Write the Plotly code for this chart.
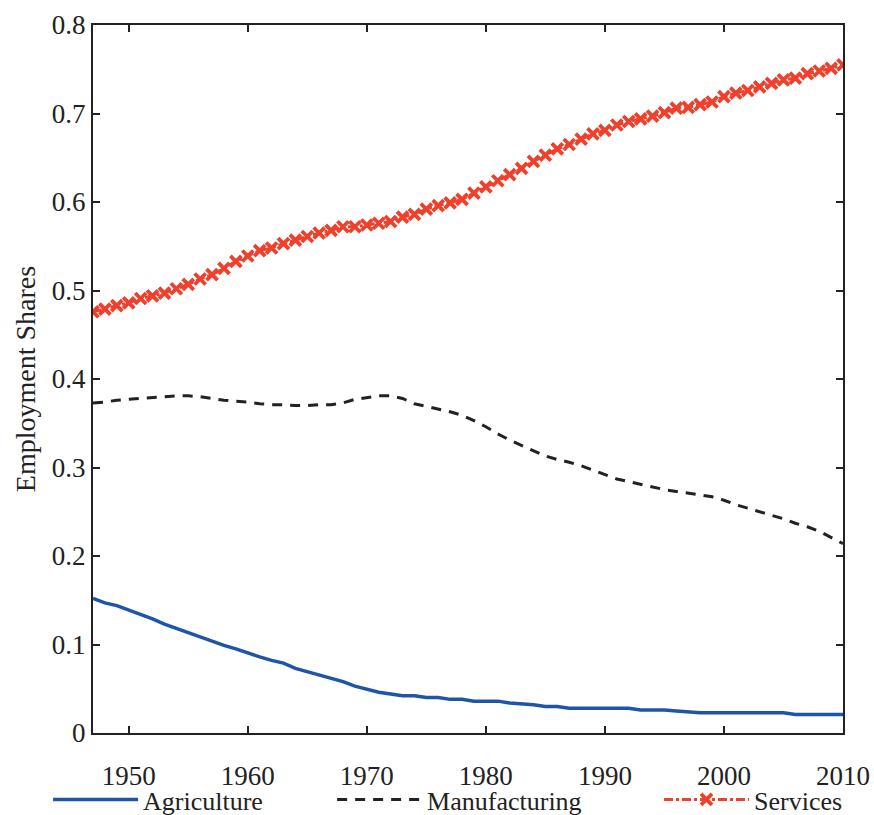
import plotly.graph_objects as go

# Employment shares by sector, 1947-2010
years = list(range(1947, 2011))

agriculture = [
    0.152, 0.147, 0.144, 0.139, 0.135, 0.129, 0.123, 0.118, 0.113, 0.109,
    0.103, 0.099, 0.095, 0.090, 0.086, 0.082, 0.079, 0.073, 0.069, 0.066,
    0.062, 0.058, 0.053, 0.049, 0.046, 0.044, 0.042, 0.042, 0.040, 0.040,
    0.038, 0.038, 0.036, 0.036, 0.036, 0.034, 0.033, 0.032, 0.030, 0.030,
    0.028, 0.028, 0.028, 0.028, 0.028, 0.028, 0.026, 0.026, 0.026, 0.025,
    0.024, 0.023, 0.023, 0.023, 0.023, 0.023, 0.023, 0.023, 0.023, 0.021,
    0.021, 0.021, 0.021, 0.021,
]

manufacturing = [
    0.373, 0.374, 0.376, 0.377, 0.378, 0.379, 0.380, 0.381, 0.381, 0.380,
    0.378, 0.376, 0.375, 0.374, 0.372, 0.371, 0.371, 0.370, 0.370, 0.371,
    0.371, 0.373, 0.377, 0.379, 0.381, 0.381, 0.378, 0.372, 0.369, 0.366,
    0.363, 0.359, 0.353, 0.346, 0.338, 0.331, 0.325, 0.319, 0.313, 0.309,
    0.306, 0.302, 0.297, 0.292, 0.287, 0.284, 0.281, 0.278, 0.275, 0.273,
    0.271, 0.269, 0.267, 0.263, 0.258, 0.254, 0.250, 0.246, 0.242, 0.237,
    0.233, 0.228, 0.221, 0.214,
]

services = [
    0.476, 0.479, 0.483, 0.486, 0.491, 0.494, 0.497, 0.502, 0.507, 0.513,
    0.518, 0.525, 0.533, 0.539, 0.545, 0.548, 0.553, 0.557, 0.561, 0.565,
    0.568, 0.572, 0.572, 0.574, 0.576, 0.578, 0.583, 0.586, 0.592, 0.596,
    0.599, 0.603, 0.610, 0.617, 0.624, 0.631, 0.638, 0.646, 0.653, 0.660,
    0.665, 0.671, 0.677, 0.681, 0.687, 0.691, 0.694, 0.697, 0.701, 0.706,
    0.707, 0.710, 0.713, 0.719, 0.723, 0.726, 0.730, 0.734, 0.738, 0.740,
    0.745, 0.748, 0.751, 0.755,
]

x_ticks = [1950, 1960, 1970, 1980, 1990, 2000, 2010]

FONT = "Liberation Serif, Times New Roman, Times, serif"
BLUE = "#1f55a8"
RED = "#f0402c"
INK = "#222222"

fig = go.Figure()

fig.add_trace(go.Scatter(
    x=years, y=agriculture, name="Agriculture", mode="lines",
    line=dict(color=BLUE, width=3.5), legend="legend", showlegend=True,
))
fig.add_trace(go.Scatter(
    x=years, y=manufacturing, name="Manufacturing", mode="lines",
    line=dict(color=INK, width=3, dash="10px,8px"), legend="legend2",
    showlegend=True,
))
fig.add_trace(go.Scatter(
    x=years, y=services, name="Services", mode="lines+markers",
    line=dict(color=RED, width=3, dash="dashdot"),
    marker=dict(symbol="x-thin", size=11, color=RED,
                line=dict(color=RED, width=3.8)),
    legend="legend3", showlegend=True,
))

axis_common = dict(
    showline=True, linecolor=INK, linewidth=2, mirror="ticks",
    ticks="inside", ticklen=7, tickwidth=1.5, tickcolor=INK,
    showgrid=False, zeroline=False, automargin=False,
    tickfont=dict(family=FONT, size=27, color=INK),
)

# legends are placed against the whole figure so they leave the margins alone
legend_common = dict(
    orientation="h", xref="container", yref="container",
    yanchor="middle", y=0.019, xanchor="left",
    font=dict(family=FONT, size=26, color=INK),
    bgcolor="rgba(0,0,0,0)", itemwidth=85,
)

fig.update_layout(
    width=874, height=815,
    margin=dict(l=93, r=31, t=25, b=82),
    paper_bgcolor="white", plot_bgcolor="white",
    font=dict(family=FONT, color=INK),
    showlegend=True,
    xaxis=dict(range=[1947, 2010], tickvals=x_ticks, ticklabelstandoff=18,
               **axis_common),
    yaxis=dict(range=[0, 0.8], dtick=0.1,
               title=dict(text="Employment Shares",
                          font=dict(family=FONT, size=28, color=INK),
                          standoff=8),
               **axis_common),
    legend=dict(x=0.055, **legend_common),
    legend2=dict(x=0.380, **legend_common),
    legend3=dict(x=0.754, **legend_common),
)

fig.write_html("out.html")
